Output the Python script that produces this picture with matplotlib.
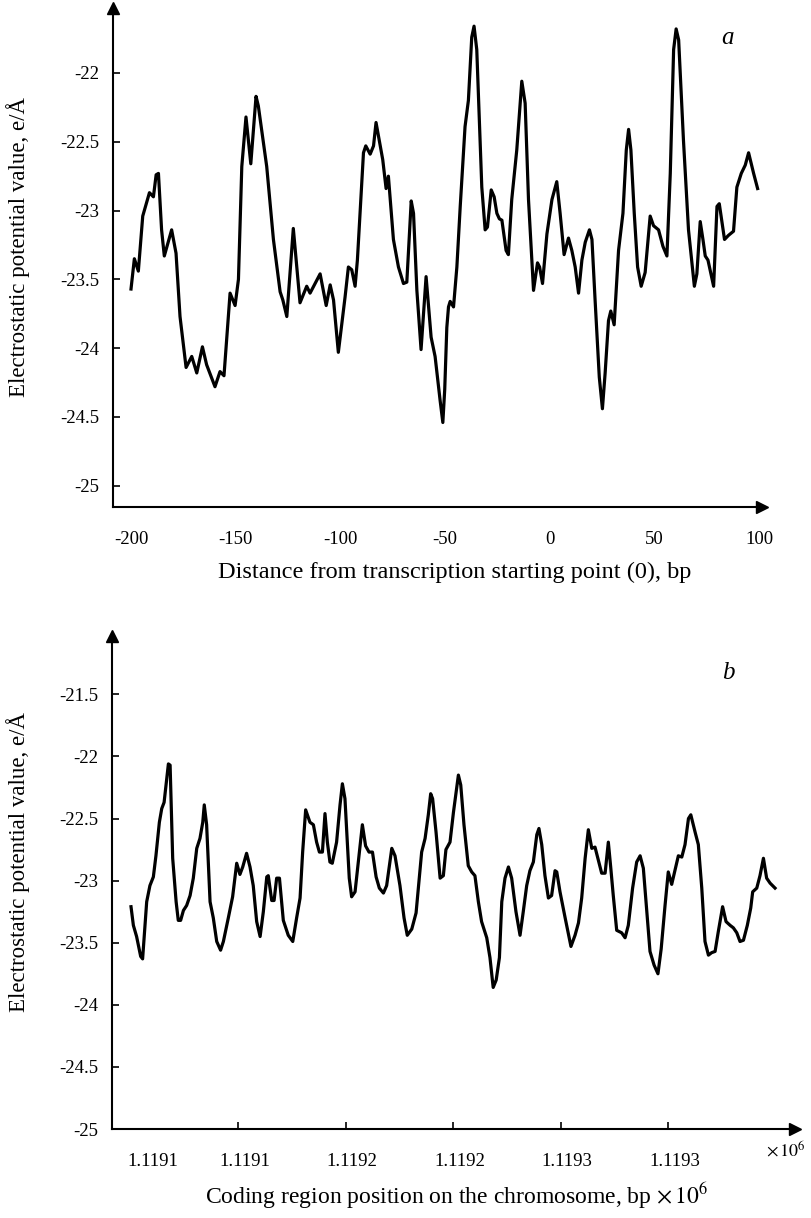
import matplotlib
matplotlib.use('Agg')
import matplotlib.pyplot as plt

plt.rcParams['font.family'] = ['Liberation Serif', 'DejaVu Serif']
plt.rcParams['mathtext.fontset'] = 'stix'
plt.rcParams['axes.unicode_minus'] = False

# ----- panel a: promoter region, distance from start point (bp) -----
dist_a = [-200, -198.4, -196.5, -194.4, -191.2, -189.3, -188, -186.9, -185.4, -184.1,
          -180.6, -178.5, -176.6, -173.7, -171, -168.6, -165.9, -163.9, -159.9, -157.5,
          -155.6, -152.7, -150.3, -148.7, -147.1, -145.1, -142.8, -140.3, -139.2, -135.2,
          -132, -128.8, -127.5, -125.6, -122.5, -119.3, -116.1, -114.5, -109.7, -106.8,
          -104.9, -103.3, -101, -97.8, -96.2, -94.6, -93, -91.9, -89, -87.9,
          -85.8, -84.2, -83, -79.8, -78.2, -77.1, -74.7, -72.3, -69.9, -68.3,
          -66.2, -65.1, -63.5, -61.5, -59.1, -56.7, -54.8, -52.4, -51.1, -50.2,
          -49.2, -48.4, -47.6, -46, -44.4, -42.8, -40.5, -38.9, -37.3, -36.2,
          -34.9, -33.3, -32.5, -30.9, -29.8, -28, -26.6, -25.3, -24.1, -22.9,
          -20.9, -19.8, -18.2, -15.8, -13.4, -11.8, -10.2, -7.8, -5.9, -4.9,
          -3.5, -1.4, 1, 3.3, 4.9, 6.8, 8.9, 10.5, 12.1, 13.7,
          15.3, 16.9, 18.9, 20.1, 21.6, 23.6, 25.1, 26.4, 28, 29.1,
          30.7, 32.8, 34.9, 36.5, 37.6, 38.7, 40.3, 41.9, 43.6, 45.5,
          47.9, 49.5, 51.9, 54, 55.9, 57.5, 59.1, 60.3, 61.5, 63.8,
          66.2, 69, 70.2, 71.8, 73.1, 74.2, 75.5, 78.2, 79.8, 80.9,
          83.4, 85.3, 87.7, 89.3, 91.4, 93.3, 94.9, 97.3, 99.2]
potential_a = [-23.57, -23.35, -23.44, -23.04, -22.87, -22.90, -22.74, -22.73, -23.14, -23.33,
               -23.14, -23.31, -23.77, -24.14, -24.06, -24.18, -23.99, -24.12, -24.28, -24.17,
               -24.20, -23.60, -23.69, -23.50, -22.68, -22.32, -22.66, -22.17, -22.24, -22.68,
               -23.21, -23.59, -23.65, -23.77, -23.13, -23.67, -23.55, -23.60, -23.46, -23.69,
               -23.54, -23.65, -24.03, -23.63, -23.41, -23.43, -23.55, -23.36, -22.58, -22.53,
               -22.59, -22.53, -22.36, -22.63, -22.84, -22.75, -23.21, -23.41, -23.53, -23.52,
               -22.93, -23.02, -23.58, -24.01, -23.48, -23.92, -24.06, -24.38, -24.54, -24.30,
               -23.85, -23.70, -23.66, -23.70, -23.41, -22.97, -22.39, -22.20, -21.74, -21.66,
               -21.83, -22.51, -22.83, -23.14, -23.12, -22.85, -22.90, -23.02, -23.06, -23.07,
               -23.29, -23.32, -22.92, -22.56, -22.06, -22.22, -22.92, -23.58, -23.38, -23.41,
               -23.53, -23.17, -22.92, -22.79, -23.02, -23.32, -23.20, -23.29, -23.41, -23.60,
               -23.36, -23.23, -23.14, -23.21, -23.65, -24.21, -24.44, -24.18, -23.80, -23.73,
               -23.83, -23.29, -23.02, -22.56, -22.41, -22.56, -23.02, -23.41, -23.55, -23.45,
               -23.04, -23.11, -23.14, -23.26, -23.33, -22.73, -21.83, -21.68, -21.76, -22.49,
               -23.14, -23.55, -23.46, -23.08, -23.21, -23.33, -23.36, -23.55, -22.97, -22.95,
               -23.21, -23.18, -23.15, -22.83, -22.73, -22.67, -22.58, -22.73, -22.84]
ticks_a = [-200, -150, -100, -50, 0, 50, 100]
yticks_a = [-22, -22.5, -23, -23.5, -24, -24.5, -25]

# ----- panel b: coding region, chromosome position (bp) -----
region_start = 1119030
offset_b = [0, 1.1, 2.6, 4.5, 5.4, 7.3, 8.8, 10.4, 11.6, 13.2,
            14.3, 15.4, 16.3, 17.4, 18.2, 19.4, 21, 22, 23.1, 24.4,
            25.9, 27.5, 29, 30.6, 32.1, 33.4, 34.1, 35.2, 36.8, 38.3,
            39.9, 41.7, 43, 45.3, 47.3, 49.2, 50.7, 52, 53.8, 55.4,
            56.9, 58.5, 60.1, 61.6, 63.2, 63.9, 65.5, 66.6, 67.8, 69.1,
            70.9, 73.2, 75.3, 77.1, 78.7, 79.9, 81.3, 83.3, 84.9, 86.4,
            87.7, 89.1, 90.3, 91.4, 92.6, 93.7, 95.7, 97.3, 98.4, 99.6,
            101.6, 102.7, 104.3, 105.8, 107.7, 109.2, 110.8, 112.4, 114.1, 115.6,
            117.5, 119, 121.4, 122.9, 125.2, 127.1, 128.6, 130.7, 132.7, 134.2,
            135.3, 136.9, 138.4, 139.5, 140.4, 142, 143.9, 145.4, 146.6, 148.5,
            150.1, 152.4, 153.5, 155, 157, 158.6, 160.1, 161.7, 163.2, 165.6,
            167.1, 168.6, 170, 171.5, 172.6, 174.1, 175.7, 177.2, 179.2, 181.1,
            182.6, 184.2, 185.7, 187.3, 188.9, 189.9, 191.2, 192.7, 194.3, 195.8,
            197.4, 198.2, 199.7, 202.1, 204.8, 206.7, 208.3, 209.8, 211.4, 212.9,
            214.5, 216, 217.6, 219.1, 220.7, 222.2, 223.3, 224.5, 226.1, 228.4,
            230, 231.5, 233.5, 235.4, 237, 238.5, 240.1, 241.6, 243.5, 245.3,
            246.8, 248.6, 250.1, 251.7, 253.3, 254.8, 256.4, 257.9, 259.5, 260.6,
            262.6, 264.1, 265.7, 267.2, 268.8, 270.3, 271.9, 273.4, 275.4, 277,
            278.9, 280.4, 282, 283.5, 285.1, 286.9, 288.5, 289.4, 291.3, 292.8,
            294.4, 295.9, 297.5, 299.8]
potential_b = [-23.21, -23.36, -23.45, -23.61, -23.63, -23.17, -23.04, -22.97, -22.80, -22.53,
               -22.42, -22.37, -22.23, -22.06, -22.07, -22.82, -23.17, -23.32, -23.32, -23.24,
               -23.20, -23.12, -22.98, -22.74, -22.66, -22.53, -22.39, -22.55, -23.17, -23.30,
               -23.49, -23.56, -23.49, -23.30, -23.13, -22.86, -22.95, -22.89, -22.78, -22.89,
               -23.04, -23.33, -23.45, -23.25, -22.97, -22.96, -23.16, -23.16, -22.98, -22.98,
               -23.32, -23.44, -23.49, -23.30, -23.14, -22.77, -22.43, -22.53, -22.55, -22.69,
               -22.77, -22.77, -22.46, -22.69, -22.85, -22.86, -22.69, -22.39, -22.22, -22.34,
               -22.98, -23.13, -23.09, -22.85, -22.55, -22.72, -22.77, -22.77, -22.97, -23.06,
               -23.10, -23.04, -22.74, -22.80, -23.04, -23.30, -23.44, -23.39, -23.26, -22.98,
               -22.77, -22.66, -22.47, -22.30, -22.34, -22.61, -22.98, -22.96, -22.75, -22.69,
               -22.45, -22.15, -22.23, -22.55, -22.88, -22.93, -22.96, -23.17, -23.33, -23.46,
               -23.62, -23.86, -23.80, -23.62, -23.17, -22.98, -22.89, -22.98, -23.25, -23.44,
               -23.25, -23.04, -22.92, -22.85, -22.63, -22.58, -22.71, -22.96, -23.14, -23.12,
               -22.92, -22.93, -23.09, -23.30, -23.53, -23.44, -23.34, -23.14, -22.82, -22.59,
               -22.74, -22.73, -22.84, -22.94, -22.94, -22.69, -22.89, -23.12, -23.40, -23.42,
               -23.46, -23.36, -23.06, -22.85, -22.80, -22.90, -23.25, -23.57, -23.68, -23.75,
               -23.55, -23.20, -22.93, -23.03, -22.91, -22.80, -22.81, -22.71, -22.50, -22.47,
               -22.61, -22.71, -23.06, -23.49, -23.60, -23.58, -23.57, -23.41, -23.21, -23.33,
               -23.36, -23.38, -23.42, -23.49, -23.48, -23.36, -23.22, -23.09, -23.06, -22.96,
               -22.82, -22.98, -23.02, -23.06]
label_offsets_b = [10, 53, 103, 153, 203, 253]
ticklabels_b = ['1.1191', '1.1191', '1.1192', '1.1192', '1.1193', '1.1193']
tick_offsets_b = [50, 100, 150, 200, 250]
yticks_b = [-21.5, -22, -22.5, -23, -23.5, -24, -24.5, -25]

W, H = 811, 1218
YLABEL = 'Electrostatic potential value, e/\u00c5'


def px(x, y):
    return x / W, 1 - y / H


def style_axis(ax):
    for side in ('top', 'right'):
        ax.spines[side].set_visible(False)
    for side in ('left', 'bottom'):
        ax.spines[side].set_linewidth(1.5)
    ax.tick_params(axis='y', direction='in', length=5, width=1.2, labelsize=13.5, pad=10)
    ax.tick_params(axis='x', which='major', length=0, labelsize=13.5, pad=17)
    ax.tick_params(axis='x', which='minor', direction='in', length=5, width=1.2)
    # arrow heads at the ends of both axes
    ax.plot([0], [1], marker='^', ms=9, color='black', transform=ax.transAxes, clip_on=False)
    ax.plot([1], [0], marker='>', ms=9, color='black', transform=ax.transAxes, clip_on=False)


fig = plt.figure(figsize=(W / 100, H / 100), dpi=100)

# panel a
ax1 = fig.add_axes([113 / W, 1 - 507 / H, 649 / W, 499 / H])
ax1.plot(dist_a, potential_a, color='black', lw=2.3)
ax1.set_xlim(-208.6, 101.3)
ax1.set_ylim(-25.154, -21.528)
ax1.set_yticks(yticks_a)
ax1.set_yticklabels(['%g' % v for v in yticks_a])
ax1.set_xticks(ticks_a)
ax1.set_xticklabels([str(v) for v in ticks_a])
ax1.set_xticks(ticks_a[1:-1], minor=True)
style_axis(ax1)
fig.text(*px(727, 38), 'a', fontsize=18, style='italic', ha='center', va='center')
fig.text(*px(455, 572), 'Distance from transcription starting point (0), bp',
         fontsize=17.5, ha='center', va='center')
fig.text(*px(18, 247), YLABEL, fontsize=16.5, rotation=90, ha='center', va='center')

# panel b
pos_b = [region_start + o for o in offset_b]
ax2 = fig.add_axes([112 / W, 1 - 1129 / H, 683 / W, 493 / H])
ax2.plot([p / 1e6 for p in pos_b], potential_b, color='black', lw=2.3)
ax2.set_xlim((region_start - 8.85) / 1e6, (region_start + 309.1) / 1e6)
ax2.set_ylim(-25, -21.03)
ax2.set_yticks(yticks_b)
ax2.set_yticklabels(['%g' % v for v in yticks_b])
ax2.set_xticks([(region_start + o) / 1e6 for o in label_offsets_b])
ax2.set_xticklabels(ticklabels_b)
ax2.set_xticks([(region_start + o) / 1e6 for o in tick_offsets_b], minor=True)
style_axis(ax2)
fig.text(*px(728, 673), 'b', fontsize=18, style='italic', ha='center', va='center')
fig.text(*px(786, 1150), r'$\times\,10^6$', fontsize=13, ha='center', va='center')
fig.text(*px(457, 1196), r'Coding region position on the chromosome, bp $\times\,10^6$',
         fontsize=17, ha='center', va='center')
fig.text(*px(18, 862), YLABEL, fontsize=16.5, rotation=90, ha='center', va='center')

fig.savefig('out.png', dpi=100)
